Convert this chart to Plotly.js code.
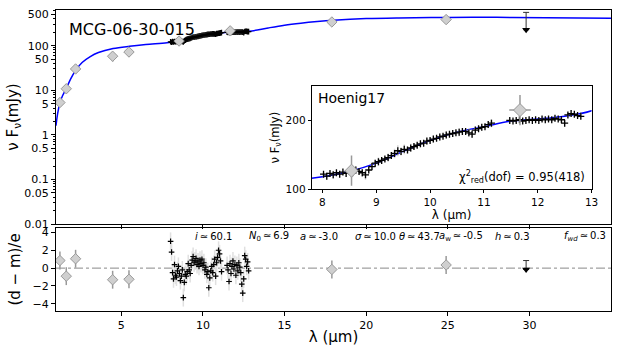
<!DOCTYPE html>
<html>
<head>
<meta charset="utf-8">
<script src="https://cdn.plot.ly/plotly-3.0.1.min.js"></script>
<style>html,body{margin:0;padding:0;background:#fff}#chart{width:623px;height:346px}</style>
</head>
<body>
<div id="chart"></div>
<script>
// ---- data ----
var modelX = [1.0,1.1,1.24,1.4,1.63,1.9,2.2,2.6,3.1,3.6,4.5,5.5,6.5,7.8,8.5,9.0,9.5,10.0,10.5,11.0,11.5,12.0,12.5,13.0,14.0,15.0,16.0,17.0,18.0,20.0,22.0,25.0,28.0,31.0,35.0];
var modelY = [1.6,3.0,5.2,7.5,11,18,28,42,57,70,86,97,106,116,126,138,155,171,183,191,199,202,206,214,250,288,320,348,372,405,420,430,432,425,410];

var specX = [8.02,8.08,8.14,8.20,8.26,8.32,8.38,8.44,8.50,8.56,8.62,8.68,8.74,8.80,8.86,8.92,8.98,9.04,9.10,9.16,9.22,9.28,9.34,9.40,9.46,9.52,9.58,9.64,9.70,9.76,9.82,9.88,9.94,10.00,10.06,10.12,10.18,10.24,10.30,10.36,10.42,10.48,10.54,10.60,10.66,10.72,10.78,10.84,10.90,10.96,11.02,11.08,11.14,11.48,11.54,11.60,11.66,11.72,11.78,11.84,11.90,11.96,12.02,12.08,12.14,12.20,12.26,12.32,12.38,12.44,12.50,12.56,12.62,12.68,12.74,12.80];
var specY = [122,119,123,121,124,122,125,123,126,124,128,126,124,121,128,133,138,140,142,144,146,149,152,156,155,158,157,160,162,164,166,167,170,171,173,174,176,177,179,180,181,182,183,184,184,182,180,186,188,190,191,194,196,200,199,200,201,199,200,201,200,201,200,202,201,202,201,203,202,201,196,208,210,209,207,206];
var specErr = [4,5,4,6,4,5,4,5,6,5,5,4,6,7,5,4,5,6,5,4,6,5,7,8,6,7,5,6,5,4,5,4,5,4,5,4,5,4,5,4,5,4,6,5,4,6,5,5,4,5,4,5,6,4,3,4,3,4,3,4,3,4,3,4,3,4,3,4,3,4,5,4,5,4,3,4];
var residY = [3.0,1.8,-0.5,-1.2,0.4,-0.8,-1.0,-0.3,0.2,-0.6,-1.4,-0.9,-0.2,-3.3,-1.6,-0.7,-0.9,-0.4,0.5,-0.2,-0.6,0.3,0.9,1.3,0.6,0.8,1.1,0.4,0.7,0.2,0.9,0.5,1.0,0.3,0.6,-0.2,0.1,-0.7,-0.4,-2.2,-1.1,-0.3,0.2,-0.5,0.4,1.0,-0.9,0.6,1.2,2.0,1.6,0.8,-0.4,0.3,-0.2,-1.5,0.5,-0.6,0.2,0.8,-0.1,0.4,-0.8,0.3,-0.3,0.6,0.1,-0.5,-1.8,-2.8,-1.2,1.4,1.0,0.2,0.7,-0.3];
var residErr = [1,1,1,1,1,1,1,1,1,1,1,1,1,1,1,1,1,1,1,1,1,1,1,1,1,1,1,1,1,1,1,1,1,1,1,1,1,1,1,1,1,1,1,1,1,1,1,1,1,1,1,1,1,1,1,1,1,1,1,1,1,1,1,1,1,1,1,1,1,1,1,1,1,1,1,1];

var photX = [1.24,1.63,2.2,4.47,5.47,8.54,11.67,17.9,24.9];
var photY = [5.3,10.8,30,58,72,127,215,340,385];
var photErr = [0.6,1.2,3,14,16,22,22,60,70];
var photXErr = [0,0,0,0,0,0,0.2,0,0];

var residPhotX = [1.24,1.63,2.2,4.47,5.47,17.9,24.9];
var residPhotY = [0.85,-0.9,1.05,-1.3,-1.25,-0.15,0.35];
var residPhotErr = [1,1,1,1,1,1,1];

var ulX = [29.8], ulY = [228], ulUp = [330];
var ulResY = [-0.15], ulResUp = [1.0];

var mainYTicks = [0.01,0.05,0.1,0.5,1,5,10,50,100,500];
var mainYText = ['0.01','0.05','0.1','0.5','1','5','10','50','100','500'];
var xTicks = [5,10,15,20,25,30];
var resTicks = [-4,-2,0,2,4];
var resTickText = ['\u22124','\u22122','0','2','4'];
var insetXTicks = [8,9,10,11,12,13];
var insetYTicks = [100,200];

var S = '\u2009\u2243\u2009';
var params = [
  {t:'<i>i</i>' + S + '60.1', px:193},
  {t:'<i>N</i><sub>0</sub>' + S + '6.9', px:247},
  {t:'<i>a</i>' + S + '-3.0', px:298},
  {t:'<i>\u03c3</i>' + S + '10.0', px:353},
  {t:'<i>\u03b8</i>' + S + '43.7', px:397},
  {t:'<i>a</i><sub>w</sub>' + S + '-0.5', px:437},
  {t:'<i>h</i>' + S + '0.3', px:493},
  {t:'<i>f</i><sub><i>wd</i></sub>' + S + '0.3', px:562}
];

// ---- styles ----
var FONT = 'DejaVu Sans';
var gray = '#999999', light = '#d4d4d4', diaFill = '#cfcfcf';

function specTrace(xa, ya, sz) {
  return {x: specX, y: specY, xaxis: xa, yaxis: ya, mode: 'markers', type: 'scatter',
    marker: {symbol: 'cross-thin', size: sz, line: {color: 'black', width: 1.3}},
    error_y: {type: 'data', array: specErr, visible: true, color: light, thickness: 1.5, width: 0},
    hoverinfo: 'skip', showlegend: false};
}

var traces = [
  {x: modelX, y: modelY, xaxis: 'x', yaxis: 'y', mode: 'lines', line: {color: '#0000ff', width: 1.5, shape: 'spline'}, showlegend: false},
  specTrace('x', 'y', 4),
  {x: photX, y: photY, xaxis: 'x', yaxis: 'y', mode: 'markers',
    marker: {symbol: 'diamond', size: 8, color: diaFill, line: {color: gray, width: 1}},
    error_y: {type: 'data', array: photErr, visible: true, color: gray, thickness: 1.5, width: 0}, showlegend: false},
  {x: ulX, y: ulY, xaxis: 'x', yaxis: 'y', mode: 'markers',
    marker: {symbol: 'triangle-down', size: 7, color: 'black'},
    error_y: {type: 'data', array: ulUp, arrayminus: [0], symmetric: false, visible: true, color: '#333', thickness: 1, width: 3}, showlegend: false},
  {x: specX, y: residY, xaxis: 'x2', yaxis: 'y2', mode: 'markers',
    marker: {symbol: 'cross-thin', size: 4, line: {color: 'black', width: 1.2}},
    error_y: {type: 'data', array: residErr, visible: true, color: '#e0e0e0', thickness: 1.5, width: 0}, showlegend: false},
  {x: residPhotX, y: residPhotY, xaxis: 'x2', yaxis: 'y2', mode: 'markers',
    marker: {symbol: 'diamond', size: 8, color: diaFill, line: {color: gray, width: 1}},
    error_y: {type: 'data', array: residPhotErr, visible: true, color: gray, thickness: 1.5, width: 0}, showlegend: false},
  {x: ulX, y: ulResY, xaxis: 'x2', yaxis: 'y2', mode: 'markers',
    marker: {symbol: 'triangle-down', size: 7, color: 'black'},
    error_y: {type: 'data', array: ulResUp, arrayminus: [0], symmetric: false, visible: true, color: '#333', thickness: 1, width: 3}, showlegend: false},
  {x: modelX, y: modelY, xaxis: 'x3', yaxis: 'y3', mode: 'lines', line: {color: '#0000ff', width: 1.5, shape: 'spline'}, showlegend: false},
  specTrace('x3', 'y3', 5),
  {x: photX, y: photY, xaxis: 'x3', yaxis: 'y3', mode: 'markers',
    marker: {symbol: 'diamond', size: 10, color: diaFill, line: {color: gray, width: 1}},
    error_y: {type: 'data', array: photErr, visible: true, color: gray, thickness: 1.5, width: 0},
    error_x: {type: 'data', array: photXErr, visible: true, color: gray, thickness: 1.5, width: 0}, showlegend: false}
];

var axBase = {showline: true, mirror: true, linecolor: 'black', linewidth: 1, ticks: 'outside', ticklen: 4, tickwidth: 1, tickcolor: 'black',
  showgrid: false, zeroline: false, tickfont: {family: FONT, size: 11, color: 'black'}};
function ax(o) { var r = {}; for (var k in axBase) r[k] = axBase[k]; for (var k2 in o) r[k2] = o[k2]; return r; }

var annotations = [
  {text: 'MCG-06-30-015', xref: 'paper', yref: 'paper', x: (67-56)/555, y: (311-30)/301, xanchor: 'left', yanchor: 'middle', showarrow: false, font: {family: FONT, size: 16, color: 'black'}},
  {text: 'Hoenig17', xref: 'paper', yref: 'paper', x: (316-56)/555, y: (311-98)/301, xanchor: 'left', yanchor: 'middle', showarrow: false, font: {family: FONT, size: 14, color: 'black'}},
  {text: '\u03c7<sup>2</sup><sub>red</sub>(dof) = 0.95(418)', xref: 'paper', yref: 'paper', x: (587-56)/555, y: (311-177)/301, xanchor: 'right', yanchor: 'middle', showarrow: false, font: {family: FONT, size: 11.5, color: 'black'}}
];
params.forEach(function (p) {
  annotations.push({text: p.t, xref: 'paper', yref: 'paper', x: (p.px-56)/555, y: (311-237)/301, xanchor: 'left', yanchor: 'middle', showarrow: false, font: {family: FONT, size: 10, color: 'black'}});
});

var layout = {
  width: 623, height: 346,
  margin: {l: 56, r: 12, t: 10, b: 35, pad: 0},
  paper_bgcolor: 'white', plot_bgcolor: 'white',
  font: {family: FONT, color: 'black'},
  showlegend: false,
  xaxis: ax({domain: [0, 1], anchor: 'y', range: [1, 35], tickmode: 'array', tickvals: xTicks, showticklabels: false}),
  yaxis: ax({domain: [0.289, 1], anchor: 'x', type: 'log', range: [-2, 2.8], tickmode: 'array', tickvals: mainYTicks, ticktext: mainYText,
    minor: {ticks: 'outside', ticklen: 2, tickcolor: 'black', dtick: 'D1'},
    title: {text: '\u03bd F<sub>\u03bd</sub>(mJy)', font: {family: FONT, size: 15}, standoff: 2}}),
  xaxis2: ax({domain: [0, 1], anchor: 'y2', range: [1, 35], tickmode: 'array', tickvals: xTicks,
    title: {text: '\u03bb (\u03bcm)', font: {family: FONT, size: 15}, standoff: 2}}),
  yaxis2: ax({domain: [0, 0.276], anchor: 'x2', range: [-4.8, 4.5], tickmode: 'array', tickvals: resTicks, ticktext: resTickText,
    title: {text: '(d \u2212 m)/e', font: {family: FONT, size: 15}, standoff: 8}}),
  xaxis3: ax({domain: [0.4607, 0.965], anchor: 'y3', range: [7.8, 13], tickmode: 'array', tickvals: insetXTicks,
    tickfont: {family: FONT, size: 10.5, color: 'black'}, ticklen: 3,
    title: {text: '\u03bb (\u03bcm)', font: {family: FONT, size: 12}, standoff: 1}}),
  yaxis3: ax({domain: [0.4043, 0.7475], anchor: 'x3', range: [100, 250], tickmode: 'array', tickvals: insetYTicks,
    tickfont: {family: FONT, size: 10.5, color: 'black'}, ticklen: 3,
    title: {text: '\u03bd F<sub>\u03bd</sub>(mJy)', font: {family: FONT, size: 11.5}, standoff: 3}}),
  shapes: [
    {type: 'rect', xref: 'x3 domain', yref: 'y3 domain', x0: 0, x1: 1, y0: 0, y1: 1, fillcolor: 'white', line: {width: 0}, layer: 'below'},
    {type: 'line', xref: 'x2 domain', yref: 'y2', x0: 0, x1: 1, y0: 0, y1: 0, line: {color: '#888888', width: 1, dash: 'dashdot'}, layer: 'below'}
  ],
  annotations: annotations
};

Plotly.newPlot('chart', traces, layout, {staticPlot: true, displayModeBar: false});
</script>
</body>
</html>
